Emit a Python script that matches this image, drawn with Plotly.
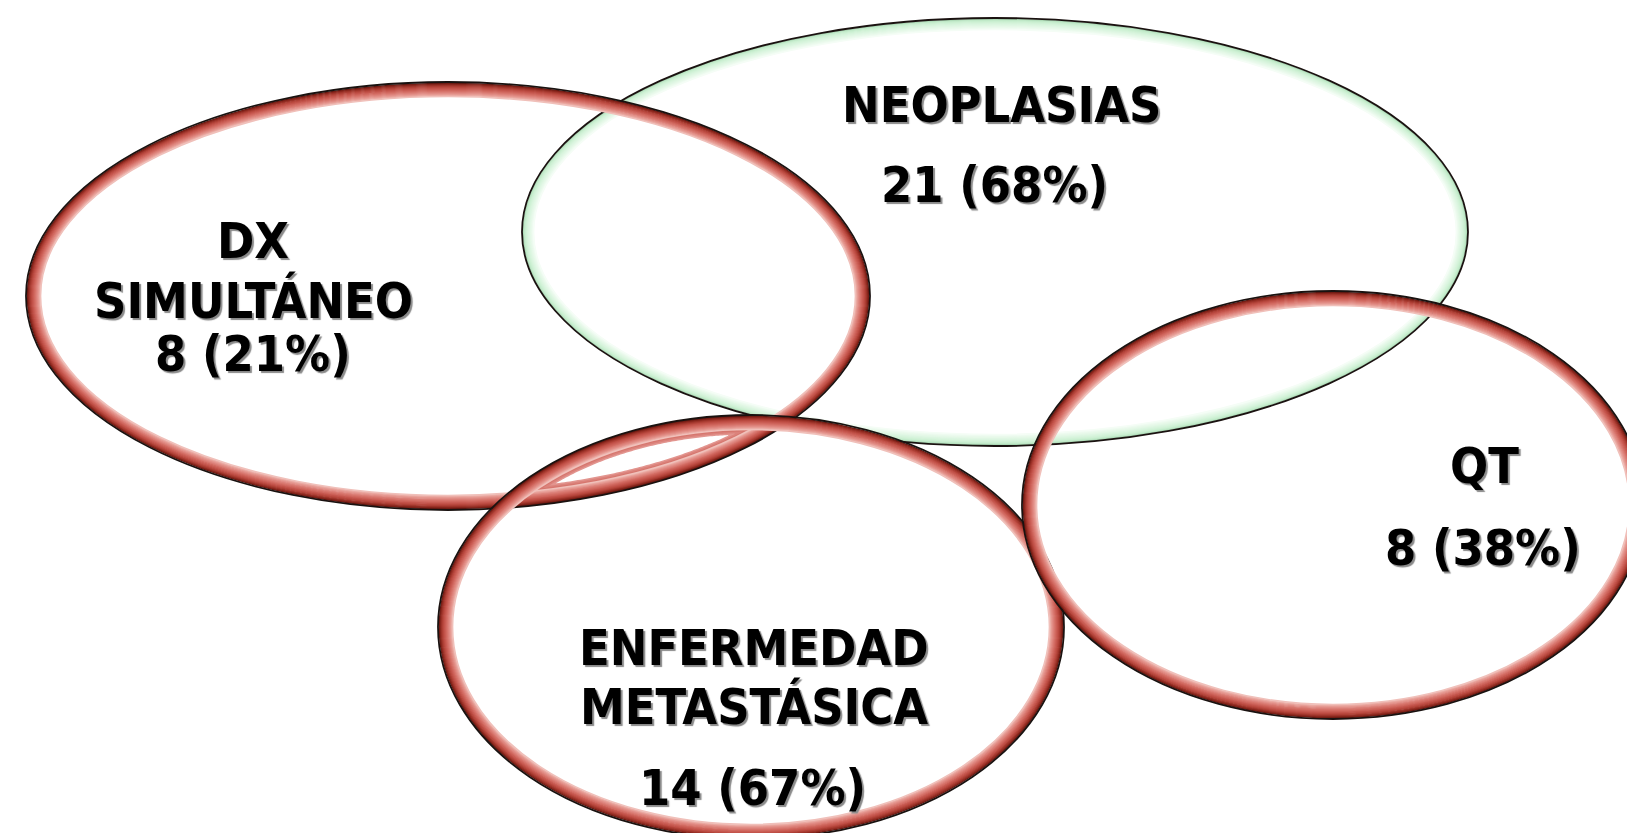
import numpy as np
import plotly.graph_objects as go

# ---- data ----
set_names = ["NEOPLASIAS", "DX SIMULTÁNEO", "ENFERMEDAD METASTÁSICA", "QT"]
set_title_lines = [["NEOPLASIAS"], ["DX", "SIMULTÁNEO"], ["ENFERMEDAD", "METASTÁSICA"], ["QT"]]
counts = [21, 8, 14, 8]
percents = [68, 21, 67, 38]

# ---- geometry (pixel space, y downward) ----
W, H = 1635, 833
ell_center = [(987, 224), (440, 288), (743, 619), (1325, 497)]
ell_radius = [(473, 214), (422, 214), (313, 212), (311, 214)]
ell_kind = ["green", "red", "red", "red"]
title_y = [[103], [239, 298], [646, 704], [464]]
title_x = [993, 245, 746, 1476]
value_y = [183, 352, 786, 546]
value_x = [986, 245, 744, 1475]

red_band = ["#6e1a12", "#84241b", "#9a3127", "#ab3d33", "#b8483e", "#c25249",
            "#c95c53", "#d0675e", "#d67269", "#db7e76", "#e08a83", "#e59890",
            "#eaa8a1", "#f0c0ba"]
green_band = ["#a9d6b2", "#bfe8c7", "#c8eecf", "#cff1d5", "#d5f3da", "#daf5df",
              "#dff6e3", "#e4f8e7", "#e9f9eb", "#eefbf0", "#f5fdf6"]


def ellipse_pts(c, r, inset, n=900):
    t = np.linspace(0, 2 * np.pi, n, endpoint=False)
    return c[0] + (r[0] - inset) * np.cos(t), c[1] + (r[1] - inset) * np.sin(t)


def inside(x, y, c, r, inset):
    return ((x - c[0]) / (r[0] - inset)) ** 2 + ((y - c[1]) / (r[1] - inset)) ** 2 <= 1.0


def lens_path(ia, ib, inset):
    ca, ra, cb, rb = ell_center[ia], ell_radius[ia], ell_center[ib], ell_radius[ib]
    xa, ya = ellipse_pts(ca, ra, inset)
    xb, yb = ellipse_pts(cb, rb, inset)
    ma = inside(xa, ya, cb, rb, inset)
    mb = inside(xb, yb, ca, ra, inset)
    px = np.concatenate([xa[ma], xb[mb]])
    py = np.concatenate([ya[ma], yb[mb]])
    if len(px) < 3:
        return None
    mx, my = px.mean(), py.mean()
    order = np.argsort(np.arctan2(py - my, px - mx))
    px, py = px[order], py[order]
    return "M " + " L ".join("%.2f,%.2f" % (a, b) for a, b in zip(px, py)) + " Z"


fig = go.Figure()
fig.add_trace(go.Scatter(x=[0, W], y=[0, H], mode="markers",
                         marker=dict(opacity=0), hoverinfo="skip", showlegend=False))

shapes = []
# bevel-like shading inside the narrow DX / ENFERMEDAD overlap
lens_cols = ["#7e2219", "#9a3127", "#ad3e34", "#b9483e", "#c04f45", "#c4554b",
             "#c85a51", "#cb6057", "#cf665d", "#d26d65", "#d6766e", "#db827b",
             "#e2958f", "#ffffff"]
for k, col in enumerate(lens_cols):
    p = lens_path(1, 2, 1.5 * k)
    if p is None:
        continue
    shapes.append(dict(type="path", xref="x", yref="y", path=p, fillcolor=col,
                       line=dict(width=0, color=col), layer="above"))

for i in range(len(ell_center)):
    cx, cy = ell_center[i]
    rx, ry = ell_radius[i]
    band = red_band if ell_kind[i] == "red" else green_band
    for k, col in enumerate(band):
        d = 1.5 + k * 1.0
        shapes.append(dict(type="circle", xref="x", yref="y",
                           x0=cx - rx + d, x1=cx + rx - d, y0=cy - ry + d, y1=cy + ry - d,
                           line=dict(color=col, width=1.7), fillcolor="rgba(0,0,0,0)",
                           layer="above"))
    shapes.append(dict(type="circle", xref="x", yref="y",
                       x0=cx - rx, x1=cx + rx, y0=cy - ry, y1=cy + ry,
                       line=dict(color="#1a1210", width=1.8), fillcolor="rgba(0,0,0,0)",
                       layer="above"))

font_family = "DejaVu Sans Condensed, Liberation Sans Narrow, Arial Narrow, sans-serif"
fsize = 50
annotations = []


def add_text(txt, x, y):
    annotations.append(dict(x=x, y=y - 6, xref="x", yref="y", text="<b>%s</b>" % txt,
                            showarrow=False, xanchor="center", yanchor="middle",
                            font=dict(family=font_family, size=fsize, color="#000000",
                                      shadow="2px 2px 1px #8a8a8a")))


for i in range(len(set_names)):
    for line, ly in zip(set_title_lines[i], title_y[i]):
        add_text(line, title_x[i], ly)
    add_text("%d (%d%%)" % (counts[i], percents[i]), value_x[i], value_y[i])

fig.update_layout(width=W, height=H, margin=dict(l=0, r=0, t=0, b=0),
                  paper_bgcolor="white", plot_bgcolor="white",
                  xaxis=dict(range=[0, W], visible=False, fixedrange=True),
                  yaxis=dict(range=[H, 0], visible=False, fixedrange=True),
                  shapes=shapes, annotations=annotations, showlegend=False)
fig.write_html("out.html", config={"displayModeBar": False})
